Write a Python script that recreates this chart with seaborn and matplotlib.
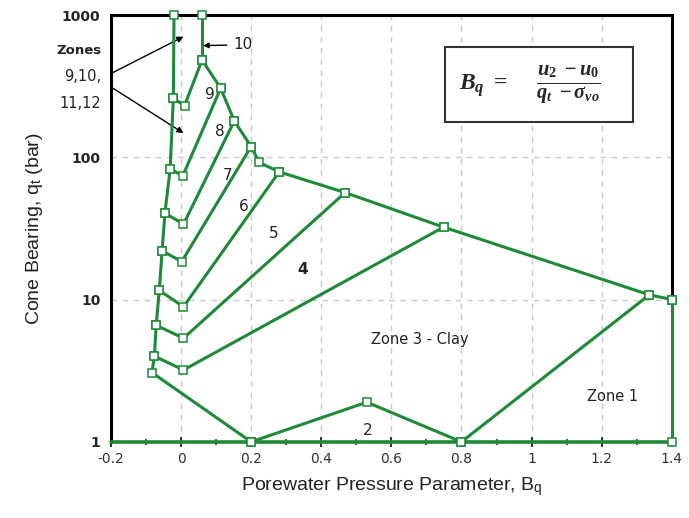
import matplotlib
matplotlib.use('Agg')
import matplotlib.pyplot as plt
import seaborn as sns
import pandas as pd
import numpy as np
from matplotlib.patches import Rectangle
from matplotlib.ticker import FixedLocator, LogLocator, NullFormatter

sns.set_style('white')
plt.rcParams['font.family'] = ['Liberation Sans', 'DejaVu Sans']
plt.rcParams['mathtext.fontset'] = 'custom'
plt.rcParams['mathtext.it'] = 'Liberation Serif:bold:italic'
plt.rcParams['mathtext.rm'] = 'Liberation Serif:bold'

green = '#1e8a38'

# upper boundary of zones 4-9
top_x = [0.06, 0.113, 0.152, 0.2, 0.223, 0.28, 0.468, 0.749, 1.336, 1.4]
top_q = [483, 306, 180, 119, 92, 79, 56.5, 32.3, 10.8, 10]

# left boundary (zones 9,10,11,12 column) down to zone 3 bottom
left_x = [-0.02, -0.022, -0.031, -0.046, -0.054, -0.062, -0.071, -0.076, -0.083, 0.2]
left_q = [1000, 260, 83, 40.5, 22, 11.6, 6.6, 4.0, 3.07, 1]

# chevrons: left point -> point near Bq=0 -> point on upper boundary
chev_left_x = [-0.022, -0.031, -0.046, -0.054, -0.062, -0.071, -0.076]
chev_left_q = [260, 83, 40.5, 22, 11.6, 6.6, 4.0]
chev_mid_x = [0.01, 0.005, 0.007, 0.002, 0.007, 0.007, 0.007]
chev_mid_q = [231, 74, 33.9, 18.5, 8.9, 5.35, 3.2]
chev_end_x = [0.06, 0.113, 0.152, 0.2, 0.28, 0.468, 0.749]
chev_end_q = [483, 306, 180, 119, 79, 56.5, 32.3]

# zone 10 line
z10_x = [0.06, 0.06]
z10_q = [483, 1000]

# zone 2 hump and zone 1 boundaries
z2_x = [0.2, 0.53, 0.8]
z2_q = [1, 1.9, 1]
z1_x = [0.8, 1.336]
z1_q = [1, 10.8]
right_x = [1.4, 1.4]
right_q = [10, 1]

rows = []
def add(name, xs, qs):
    for a, b in zip(xs, qs):
        rows.append({'seg': name, 'Bq': a, 'qt': b})

add('top', top_x, top_q)
add('left', left_x, left_q)
for i in range(len(chev_left_x)):
    add('chev%d' % i, [chev_left_x[i], chev_mid_x[i], chev_end_x[i]],
        [chev_left_q[i], chev_mid_q[i], chev_end_q[i]])
add('z10', z10_x, z10_q)
add('z2', z2_x, z2_q)
add('z1', z1_x, z1_q)
add('right', right_x, right_q)
df = pd.DataFrame(rows)

fig = plt.figure(figsize=(6.89, 5.18), dpi=100)
ax = fig.add_axes([0.161, 0.147, 0.814, 0.824])

ax.set_yscale('log')
ax.set_xlim(-0.2, 1.4)
ax.set_ylim(1, 1000)

ax.grid(True, which='major', color='#c8c8c8', linestyle=(0, (4, 4)), linewidth=1.0)

# bottom green line along qt = 1
ax.plot([-0.2, 1.4], [1, 1], color=green, lw=2.6, clip_on=False, zorder=4)

sns.lineplot(data=df, x='Bq', y='qt', units='seg', estimator=None, sort=False,
             color=green, lw=2.2, marker='s', markersize=5.5, markerfacecolor='white',
             markeredgecolor=green, markeredgewidth=1.1, ax=ax, clip_on=False, zorder=5)

ax.set_xticks([-0.2, 0, 0.2, 0.4, 0.6, 0.8, 1, 1.2, 1.4])
ax.set_xticklabels(['-0.2', '0', '0.2', '0.4', '0.6', '0.8', '1', '1.2', '1.4'])
ax.xaxis.set_minor_locator(FixedLocator(np.arange(-0.1, 1.4, 0.2)))
ax.set_yticks([1, 10, 100, 1000])
ax.set_yticklabels(['1', '10', '100', '1000'])
ax.yaxis.set_minor_locator(LogLocator(base=10, subs=np.arange(2, 10)))
ax.yaxis.set_minor_formatter(NullFormatter())

ax.tick_params(axis='y', which='major', direction='inout', length=9, width=1.5,
               labelsize=10, pad=3)
ax.tick_params(axis='y', which='minor', direction='inout', length=6, width=1.2)
ax.tick_params(axis='x', which='major', direction='inout', length=7, width=1.3,
               labelsize=10, labelcolor='#333333', pad=4, bottom=True)
ax.tick_params(axis='x', which='minor', direction='inout', length=5, width=1.1, bottom=True)
for lab in ax.get_yticklabels():
    lab.set_family('DejaVu Sans')
    lab.set_fontweight('bold')
for lab in ax.get_xticklabels():
    lab.set_family('DejaVu Sans')

for s in ['left', 'top', 'right']:
    ax.spines[s].set_color('black')
    ax.spines[s].set_linewidth(2.2)
ax.spines['bottom'].set_visible(False)

ax.set_xlabel('Porewater Pressure Parameter, B$_\\mathregular{q}$', fontsize=14,
              color='#222222', labelpad=6)
ax.set_ylabel('Cone Bearing, q$_\\mathregular{t}$ (bar)', fontsize=14,
              color='#222222', labelpad=12)

# zone labels
zone_kw = dict(ha='center', va='center', fontsize=11, color='#222222', family='DejaVu Sans')
ax.text(0.083, 275, '9', **zone_kw)
ax.text(0.111, 152, '8', **zone_kw)
ax.text(0.134, 75, '7', **zone_kw)
ax.text(0.178, 45, '6', **zone_kw)
ax.text(0.263, 29.3, '5', **zone_kw)
ax.text(0.347, 16.2, '4', fontweight='bold', **zone_kw)
ax.text(0.68, 5.2, 'Zone 3 - Clay', ha='center', va='center', fontsize=10.5,
        color='#222222', family='DejaVu Sans')
ax.text(1.232, 2.08, 'Zone 1', ha='center', va='center', fontsize=10.5,
        color='#222222', family='DejaVu Sans')
ax.text(0.533, 1.21, '2', **zone_kw)

ax.annotate('10', xy=(0.063, 610), xytext=(0.148, 617), ha='left', va='center',
            fontsize=11, color='#222222', family='DejaVu Sans',
            arrowprops=dict(arrowstyle='-|>', color='black', lw=1.0, mutation_scale=8,
                            shrinkA=2, shrinkB=0))

# zones 9,10,11,12 text with two arrows
ax.text(-0.228, 560, 'Zones', ha='right', va='center', fontsize=9.5,
        fontweight='bold', color='#222222', family='DejaVu Sans', clip_on=False)
ax.text(-0.228, 370, '9,10,', ha='right', va='center', fontsize=10.5,
        color='#222222', family='DejaVu Sans', clip_on=False)
ax.text(-0.228, 240, '11,12', ha='right', va='center', fontsize=10.5,
        color='#222222', family='DejaVu Sans', clip_on=False)
arrow_kw = dict(arrowstyle='-|>', color='black', lw=1.0, mutation_scale=9,
                shrinkA=0, shrinkB=0)
ax.annotate('', xy=(0.007, 705), xytext=(-0.198, 390), arrowprops=arrow_kw,
            annotation_clip=False)
ax.annotate('', xy=(0.007, 148), xytext=(-0.198, 310), arrowprops=arrow_kw,
            annotation_clip=False)

# formula box
ax.add_patch(Rectangle((0.595, 0.749), 0.335, 0.176, transform=ax.transAxes,
                       facecolor='white', edgecolor='#333333', lw=1.5, zorder=6))
ax.text(0.62, 0.835, r'$B_q\ =$', transform=ax.transAxes, ha='left', va='center',
        fontsize=17, zorder=7)
ax.text(0.815, 0.835, r'$\frac{u_2\ -u_0}{q_t\ -\sigma_{vo}}$', transform=ax.transAxes,
        ha='center', va='center', fontsize=21, zorder=7)

fig.savefig('out.png', dpi=100, facecolor='white')
